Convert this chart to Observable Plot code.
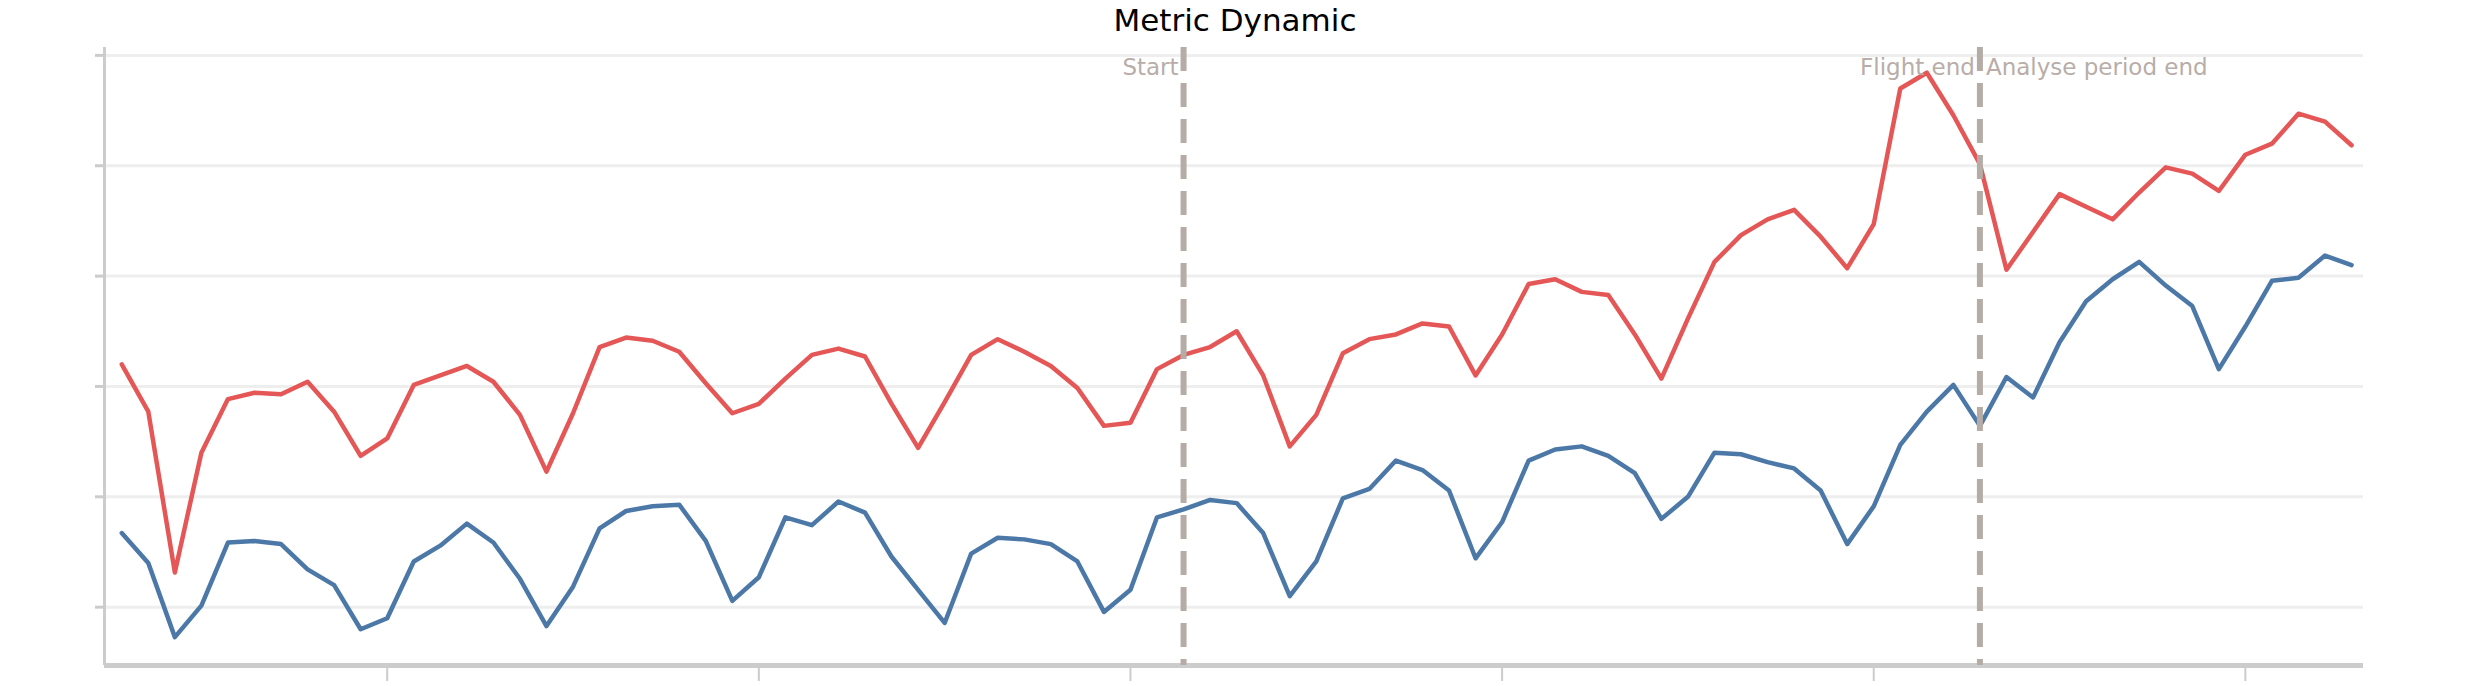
<!DOCTYPE html>
<html>
<head>
<meta charset="utf-8">
<script src="https://cdn.jsdelivr.net/npm/d3@7"></script>
<script src="https://cdn.jsdelivr.net/npm/@observablehq/plot@0.6"></script>
<style>
  body { margin: 0; background: #fff; font-family: "DejaVu Sans", sans-serif; }
  #titulo { height: 40px; line-height: 40px; text-align: center; font-size: 31px; color: #000; }
</style>
</head>
<body>
<div id="titulo">Metric Dynamic</div>
<div id="grafico"></div>
<script>
// valores (unidades arbitrarias, el original no tiene etiquetas)
const red = [224,194,92,168,202,206,205,213,194,166,
  177,211,217,223,213,192,156,193,235,241,
  239,232,212,193,199,215,230,234,229,199,
  171,200,230,240,232,223,209,185,187,221,
  230,235,245,217,172,192,231,240,243,250,
  248,217,243,275,278,270,268,243,215,253,
  289,306,316,322,305,285,313,399,409,382,
  351,284,308,332,324,316,333,349,345,334,
  357,364,383,378,363];
const blue = [117,98,51,71,111,112,110,94,84,56,
  63,99,109,123,111,88,58,83,120,131,
  134,135,112,74,89,127,122,137,130,102,
  81,60,104,114,113,110,99,67,81,127,
  132,138,136,117,77,99,139,145,163,157,
  144,101,124,163,170,172,166,155,126,140,
  168,167,162,158,144,110,134,173,194,211,
  185,216,203,238,264,278,289,274,261,221,
  248,277,279,293,287];
const yTicks = [70,140,210,280,350,420];
const xTicks = [10,24,38,52,66,80];
const eventosIzq = [{x: 40, label: "Start"}, {x: 70, label: "Flight end"}];
const eventosDer = [{x: 70, label: "Analyse period end"}];

const data = red.map((v, i) => ({i, v, serie: "A"}))
  .concat(blue.map((v, i) => ({i, v, serie: "B"})));

const chart = Plot.plot({
  width: 2470,
  height: 646,
  marginLeft: 104,
  marginRight: 107,
  marginTop: 7,
  marginBottom: 21,
  style: {fontFamily: "DejaVu Sans, sans-serif", fontSize: 22},
  x: {domain: [-0.65, 84.45]},
  y: {domain: [33, 425]},
  color: {domain: ["A", "B"], range: ["#e45756", "#4c78a8"]},
  marks: [
    Plot.ruleY(yTicks, {stroke: "#eee", strokeWidth: 3}),
    Plot.axisY({ticks: yTicks, tickFormat: () => "", tickSize: 9, stroke: "#ccc", strokeWidth: 3, label: null}),
    Plot.axisX({ticks: xTicks, tickFormat: () => "", tickSize: 16, stroke: "#ccc", strokeWidth: 2, label: null}),
    Plot.ruleX([-0.65], {stroke: "#ccc", strokeWidth: 3}),
    Plot.ruleY([33], {stroke: "#ccc", strokeWidth: 5}),
    Plot.line(data, {x: "i", y: "v", z: "serie", stroke: "serie", strokeWidth: 4.5}),
    Plot.ruleX([40, 70], {stroke: "#b5aca6", strokeWidth: 6, strokeDasharray: "24,12"}),
    Plot.text(eventosIzq, {x: "x", y: 425, text: "label", textAnchor: "end", dx: -5, dy: 20, fill: "#b8ada8", fontSize: 23}),
    Plot.text(eventosDer, {x: "x", y: 425, text: "label", textAnchor: "start", dx: 6, dy: 20, fill: "#b8ada8", fontSize: 23})
  ]
});

d3.select('#grafico').append(() => chart);
</script>
</body>
</html>
